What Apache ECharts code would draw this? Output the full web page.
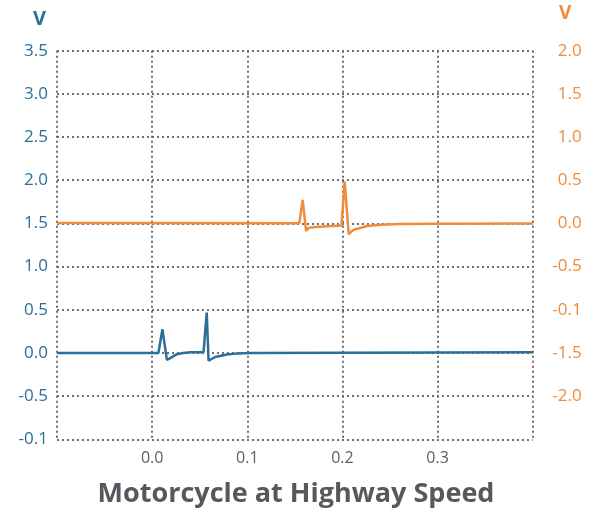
<!DOCTYPE html>
<html>
<head>
<meta charset="utf-8">
<script src="https://cdn.jsdelivr.net/npm/echarts@6/dist/echarts.min.js"></script>
<style>html,body{margin:0;padding:0;background:#fff}#c{width:592px;height:514px}</style>
</head>
<body>
<div id="c"></div>
<script>
// Data
const chartTitle = 'Motorcycle at Highway Speed';
const unitLabel = 'V';
const xTickLabels = ['', '0.0', '0.1', '0.2', '0.3', ''];           // -0.1 .. 0.4
const leftTickLabels = ['-0.1', '-0.5', '0.0', '0.5', '1.0', '1.5', '2.0', '2.5', '3.0', '3.5']; // -1.0 .. 3.5
const rightTickLabels = ['', '-2.0', '-1.5', '-0.1', '-0.5', '0.0', '0.5', '1.0', '1.5', '2.0']; // -2.5 .. 2.0

const blueX = [-0.1, 0.0066, 0.0108, 0.0155, 0.019, 0.026, 0.0326, 0.040, 0.054, 0.0574, 0.0593, 0.0663, 0.0786, 0.090, 0.1032, 0.4];
const blueY = [0.0, 0.0, 0.275, -0.08, -0.06, -0.014, 0.0, 0.008, 0.008, 0.468, -0.09, -0.047, -0.017, -0.005, 0.0, 0.008];

const orangeX = [-0.1, 0.1547, 0.1582, 0.1618, 0.1645, 0.175, 0.190, 0.1990, 0.2024, 0.2066, 0.2102, 0.2137, 0.226, 0.240, 0.261, 0.300, 0.4];
const orangeY = [0.005, 0.003, 0.272, -0.087, -0.050, -0.040, -0.030, -0.025, 0.484, -0.125, -0.087, -0.067, -0.030, -0.016, -0.008, -0.003, 0.0];

const BLUE = '#2b6f99';
const ORANGE = '#f08c3a';
const GRID = '#6b6e76';
const FONT = 'Open Sans';

function pairs(xs, ys) { return xs.map((x, i) => [x, ys[i]]); }
function labelFrom(arr, min, step) {
  return function (v) { const i = Math.round((v - min) / step); return arr[i] !== undefined ? arr[i] : ''; };
}

const chart = echarts.init(document.getElementById('c'), null, { renderer: 'canvas' });
const splitStyle = { show: true, lineStyle: { color: GRID, width: 2, type: [2, 3] } };

chart.setOption({
  animation: false,
  backgroundColor: '#fff',
  title: [
    { text: chartTitle, left: 'center', top: 476,
      textStyle: { fontFamily: FONT, fontSize: 27, fontWeight: 'bold', color: '#55595e' } },
    { text: unitLabel, left: 28, top: 4,
      textStyle: { fontFamily: FONT, fontSize: 20, fontWeight: 'bold', color: BLUE } },
    { text: unitLabel, left: 554, top: -1,
      textStyle: { fontFamily: FONT, fontSize: 19, fontWeight: 'bold', color: ORANGE } }
  ],
  grid: { left: 57, right: 59.3, top: 50.7, bottom: 74.7, containLabel: false },
  xAxis: {
    type: 'value', min: -0.1, max: 0.4, interval: 0.1,
    axisLine: { show: false }, axisTick: { show: false },
    splitLine: splitStyle,
    axisLabel: { formatter: labelFrom(xTickLabels, -0.1, 0.1), margin: 11,
      fontFamily: FONT, fontSize: 16, color: '#5a5d62', showMinLabel: true, showMaxLabel: true }
  },
  yAxis: [
    { type: 'value', position: 'left', min: -1.0, max: 3.5, interval: 0.5,
      axisLine: { show: false }, axisTick: { show: false },
      splitLine: splitStyle,
      axisLabel: { formatter: labelFrom(leftTickLabels, -1.0, 0.5), margin: 9,
        fontFamily: FONT, fontSize: 17, color: BLUE } },
    { type: 'value', position: 'right', min: -2.5, max: 2.0, interval: 0.5,
      axisLine: { show: false }, axisTick: { show: false },
      splitLine: { show: false },
      axisLabel: { formatter: labelFrom(rightTickLabels, -2.5, 0.5), margin: 49, align: 'right',
        fontFamily: FONT, fontSize: 17, color: ORANGE } }
  ],
  series: [
    { type: 'line', yAxisIndex: 1, data: pairs(orangeX, orangeY), showSymbol: false,
      lineStyle: { color: ORANGE, width: 2.5 }, itemStyle: { color: ORANGE } },
    { type: 'line', yAxisIndex: 0, data: pairs(blueX, blueY), showSymbol: false,
      lineStyle: { color: BLUE, width: 2.5 }, itemStyle: { color: BLUE } }
  ]
});
</script>
</body>
</html>
